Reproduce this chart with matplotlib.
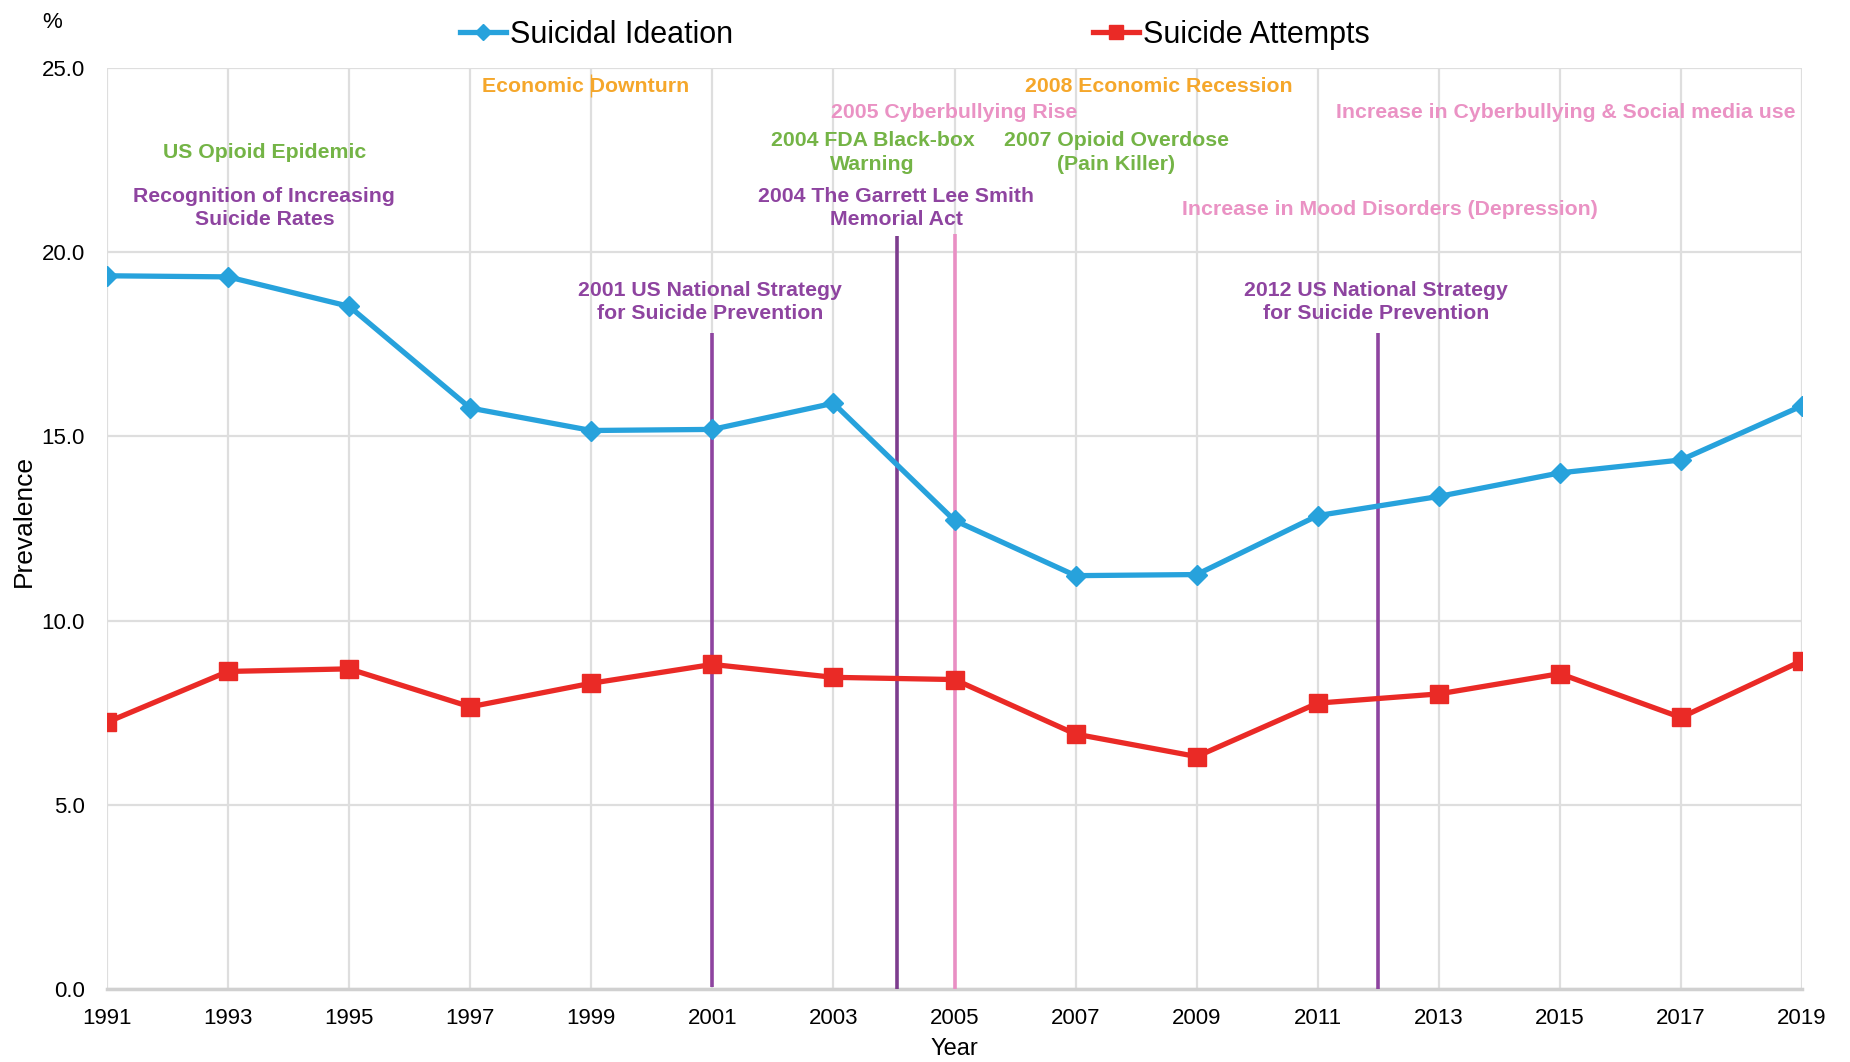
import matplotlib
matplotlib.use("Agg")
import matplotlib.pyplot as plt

years = [1991, 1993, 1995, 1997, 1999, 2001, 2003, 2005, 2007, 2009, 2011, 2013, 2015, 2017, 2019]
ideation = [19.36, 19.33, 18.53, 15.77, 15.16, 15.19, 15.90, 12.72, 11.22, 11.25, 12.85, 13.37, 14.01, 14.36, 15.83]
attempts = [7.24, 8.62, 8.69, 7.66, 8.30, 8.81, 8.46, 8.40, 6.92, 6.31, 7.76, 8.01, 8.56, 7.37, 8.91]

# event marker lines: year, bottom value, top value
event_years = [2001, 2004.05, 2005.0, 2012, 1999]
event_bottoms = [0.05, 0, 0, 0, 24.2]
event_tops = [17.8, 20.45, 20.5, 17.8, 24.85]
event_colors = ["#8e44a0", "#7d3d8e", "#e98fc4", "#8e44a0", "#f5a72b"]
event_widths = [2.6, 2.6, 2.6, 2.6, 1.0]

# annotations: text, x (year), y (value), colour
ann_texts = [
    "Economic Downturn",
    "US Opioid Epidemic",
    "Recognition of Increasing\nSuicide Rates",
    "2001 US National Strategy\nfor Suicide Prevention",
    "2004 FDA Black-box\nWarning",
    "2005 Cyberbullying Rise",
    "2004 The Garrett Lee Smith\nMemorial Act",
    "2008 Economic Recession",
    "2007 Opioid Overdose\n(Pain Killer)",
    "Increase in Cyberbullying & Social media use",
    "Increase in Mood Disorders (Depression)",
    "2012 US National Strategy\nfor Suicide Prevention",
]
ann_x = [1998.9, 1993.6, 1993.6, 2000.96, 2003.65, 2005.0, 2004.04, 2008.37, 2007.67, 2015.1, 2012.2, 2011.96]
ann_y = [24.5, 22.7, 21.2, 18.65, 22.7, 23.8, 21.2, 24.5, 22.7, 23.8, 21.15, 18.65]
ORANGE = "#f5a72b"
GREEN = "#74b446"
PURPLE = "#8e44a0"
PINK = "#ea92c4"
ann_colors = [ORANGE, GREEN, PURPLE, PURPLE, GREEN, PINK, PURPLE, ORANGE, GREEN, PINK, PINK, PURPLE]

plt.rcParams['font.family'] = ['Liberation Sans', 'DejaVu Sans']

fig = plt.figure(figsize=(18.5, 10.62), dpi=100)
ax = fig.add_axes([107/1850, 1-989/1062, (1802-107)/1850, (989-68)/1062])

BLUE = "#27a2dc"
RED = "#ea2a26"
l1, = ax.plot(years, ideation, color=BLUE, lw=3.8, marker="D", markersize=10, label="Suicidal Ideation", zorder=4)
l2, = ax.plot(years, attempts, color=RED, lw=3.8, marker="s", markersize=12.5, label="Suicide Attempts", zorder=4)

for yr, b, top, c, w in zip(event_years, event_bottoms, event_tops, event_colors, event_widths):
    ax.plot([yr, yr], [b, top], color=c, lw=w, zorder=3, solid_capstyle="butt")

for t, x, y, c in zip(ann_texts, ann_x, ann_y, ann_colors):
    ax.text(x, y, t, color=c, ha="center", va="center", fontsize=15.3, fontweight="bold",
            linespacing=1.3, zorder=5)

ax.set_xlim(1991, 2019)
ax.set_ylim(0, 25)
ax.set_xticks(years)
ax.set_xticklabels([str(y) for y in years])
ax.set_yticks([0, 5, 10, 15, 20, 25])
ax.set_yticklabels(["0.0", "5.0", "10.0", "15.0", "20.0", "25.0"])
ax.grid(True, color="#dedede", lw=1.6)
ax.set_axisbelow(True)
for s in ["top", "right", "left"]:
    ax.spines[s].set_visible(False)
ax.spines["bottom"].set_color("#d0d0d0")
ax.spines["bottom"].set_linewidth(2.5)
ax.tick_params(axis="both", length=0, labelsize=16, colors="black")
ax.tick_params(axis="y", pad=16)
ax.tick_params(axis="x", pad=14)
ax.set_xlabel("Year", fontsize=17, labelpad=6)

fig.text(24/1850, 1-521/1062, "Prevalence", fontsize=19, rotation=90, ha="center", va="center")
fig.text(52/1850, 1-23/1062, "%", fontsize=16, ha="center", va="center")

fig.legend(handles=[l1, l2], loc="center", bbox_to_anchor=(915/1850, 1-35/1062), ncol=2,
           frameon=False, fontsize=22, handlelength=1.5, handletextpad=0.12, columnspacing=11.8,
           markerscale=0.85)

fig.savefig("out.png", dpi=100, facecolor="white")
